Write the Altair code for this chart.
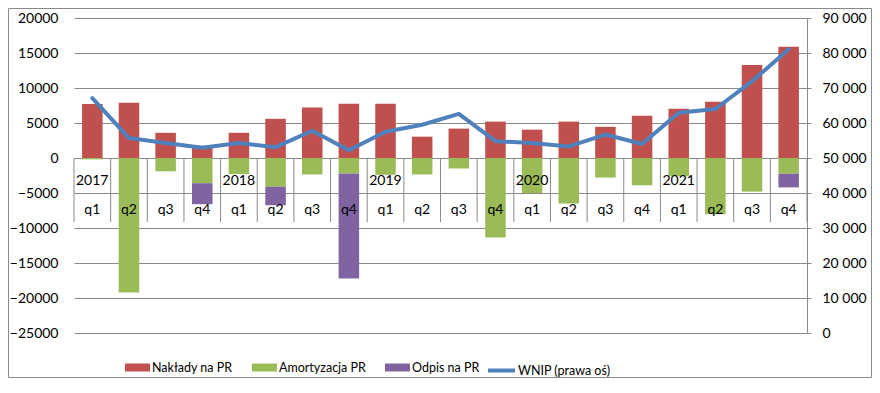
import altair as alt
import pandas as pd

years = ["2017", "2018", "2019", "2020", "2021"]
quarters = ["q1", "q2", "q3", "q4"]

naklady = [7700, 7900, 3600, 1750, 3600, 5600, 7200, 7750, 7750, 3050,
           4200, 5200, 4050, 5200, 4450, 6050, 7050, 8050, 13300, 15900]
amortyzacja = [-200, -19200, -1900, -3600, -2300, -4100, -2350, -2200, -2400, -2350,
               -1500, -11350, -5000, -6500, -2800, -3900, -2600, -8050, -4800, -2250]
odpis = [0, 0, 0, -3000, 0, -2650, 0, -15000, 0, 0,
         0, 0, 0, 0, 0, 0, 0, 0, 0, -1950]
wnip = [67100, 55700, 54300, 52900, 54300, 53100, 57800, 52200, 57500, 59500,
        62600, 54800, 54300, 53300, 56700, 54000, 62900, 64000, 71900, 81100]

series_names = ["Nakłady na PR", "Amortyzacja PR", "Odpis na PR"]
series_colors = ["#C0504D", "#9BBB59", "#8064A2"]
line_name = "WNIP (prawa oś)"
line_color = "#4F81BD"
grid_color = "#8A8A8A"
FONT = "Lato"

# ---- tables built from the arrays ----
rows = []
for i in range(len(naklady)):
    rows.append({"idx": i, "series": series_names[0], "y0": 0, "y1": naklady[i]})
    rows.append({"idx": i, "series": series_names[1], "y0": 0, "y1": amortyzacja[i]})
    rows.append({"idx": i, "series": series_names[2], "y0": amortyzacja[i],
                 "y1": amortyzacja[i] + odpis[i]})
bars_df = pd.DataFrame(rows)

labels_df = pd.DataFrame({
    "idx": list(range(len(naklady))),
    "quarter": [q for _ in years for q in quarters],
    "year": [y if q == "q1" else "" for y in years for q in quarters],
})
sep_df = pd.DataFrame({"b": list(range(len(naklady) + 1))})
line_df = pd.DataFrame({"idx": list(range(len(wnip))), "wnip": wnip,
                        "name": [line_name] * len(wnip)})

xscale = alt.Scale(domain=[0, len(naklady)], nice=False, zero=False)
yscale = alt.Scale(domain=[-25000, 20000], nice=False, zero=False)

left_axis = alt.Axis(
    title=None, values=list(range(-25000, 20001, 5000)), format="d",
    grid=True, gridColor=grid_color, gridWidth=1, domain=False, ticks=False,
    labelFont=FONT, labelFontSize=14, labelColor="#000000", labelPadding=16,
)

seps = alt.Chart(sep_df).mark_rule(color=grid_color, strokeWidth=1).encode(
    x=alt.X("b:Q", scale=xscale, axis=None),
    y=alt.value(140), y2=alt.value(204),
)

bars = alt.Chart(bars_df).transform_calculate(
    xs="datum.idx + 0.22", xe="datum.idx + 0.78"
).mark_bar(strokeWidth=0).encode(
    x=alt.X("xs:Q", scale=xscale, axis=None),
    x2="xe:Q",
    y=alt.Y("y0:Q", scale=yscale, axis=left_axis),
    y2="y1:Q",
    color=alt.Color(
        "series:N",
        scale=alt.Scale(domain=series_names, range=series_colors),
        legend=alt.Legend(
            title=None, orient="none", direction="horizontal",
            legendX=51, legendY=337, columns=3, columnPadding=19,
            symbolType="M-1,-0.32L1,-0.32L1,0.32L-1,0.32Z", symbolSize=625,
            symbolStrokeWidth=0, labelFont=FONT, labelFontSize=12.5,
            labelColor="#000000", labelOffset=2, padding=0,
            labelBaseline="middle",
        ),
    ),
)

qtext = alt.Chart(labels_df).transform_calculate(
    xc="datum.idx + 0.5"
).mark_text(font=FONT, fontSize=14, color="#000000", align="center",
            baseline="alphabetic").encode(
    x=alt.X("xc:Q", scale=xscale, axis=None),
    y=alt.value(196),
    text="quarter:N",
)

ytext = alt.Chart(labels_df).mark_text(
    font=FONT, fontSize=14, color="#000000", align="left",
    baseline="alphabetic", dx=2
).encode(
    x=alt.X("idx:Q", scale=xscale, axis=None),
    y=alt.value(167),
    text="year:N",
)

frame = alt.Chart(pd.DataFrame({"k": [0]})).mark_rect(
    fill="transparent", stroke=grid_color, strokeWidth=1
).encode(
    x=alt.value(-65.5), x2=alt.value(797.5),
    y=alt.value(-9.5), y2=alt.value(359.5),
)

left_group = alt.layer(frame, seps, bars, qtext, ytext)

line = alt.Chart(line_df).transform_calculate(
    xc="datum.idx + 0.5"
).mark_line(strokeWidth=4, strokeJoin="round", strokeCap="round").encode(
    x=alt.X("xc:Q", scale=xscale, axis=None),
    y=alt.Y("wnip:Q", scale=alt.Scale(domain=[0, 90000], nice=False, zero=False),
            axis=alt.Axis(
                title=None, orient="right", values=list(range(0, 90001, 10000)),
                labelExpr="replace(format(datum.value, ','), ',', ' ')",
                grid=False, domain=True, domainColor=grid_color, ticks=True,
                tickColor=grid_color, tickSize=4, labelPadding=11,
                labelFont=FONT, labelFontSize=14, labelColor="#000000",
            )),
    stroke=alt.Stroke(
        "name:N",
        scale=alt.Scale(domain=[line_name], range=[line_color]),
        legend=alt.Legend(
            title=None, orient="none", direction="horizontal",
            legendX=412, legendY=337, symbolType="stroke", symbolSize=729,
            symbolStrokeWidth=4, labelFont=FONT, labelFontSize=12.5,
            labelColor="#000000", labelOffset=1, padding=0,
            labelBaseline="middle",
        ),
    ),
)

chart = alt.layer(left_group, line).resolve_scale(
    y="independent"
).properties(
    width=733, height=315,
    padding={"left": 66, "top": 10, "right": 65, "bottom": 45},
    autosize=alt.AutoSizeParams(type="none"),
    background="white",
).configure_view(stroke=None)

chart.save("out.html", embed_options={"renderer": "svg", "actions": False})
